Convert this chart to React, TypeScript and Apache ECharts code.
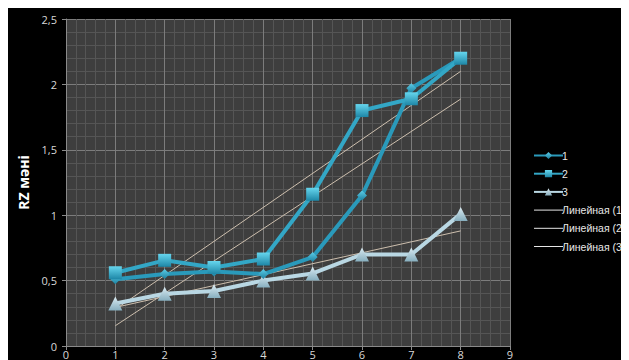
import React, { useEffect, useRef } from "react";
import * as echarts from "echarts";

const xValues = [1, 2, 3, 4, 5, 6, 7, 8];
const series1 = [0.51, 0.55, 0.57, 0.55, 0.68, 1.15, 1.97, 2.2];
const series2 = [0.56, 0.655, 0.6, 0.665, 1.16, 1.8, 1.89, 2.2];
const series3 = [0.325, 0.4, 0.42, 0.5, 0.555, 0.7, 0.7, 1.01];
const trendX = [1, 8];
const trend1 = [0.155, 1.888];
const trend2 = [0.28, 2.1];
const trend3 = [0.295, 0.88];
const seriesNames = ["1", "2", "3", "Линейная (1)", "Линейная (2)", "Линейная (3)"];
const yTicks = [0, 0.5, 1, 1.5, 2, 2.5];

const pairs = (xs: number[], ys: number[]) => xs.map((x, i) => [x, ys[i]]);

const grad = (top: string, bottom: string) =>
  new echarts.graphic.LinearGradient(0, 0, 0, 1, [
    { offset: 0, color: top },
    { offset: 1, color: bottom },
  ]);

const trendLegend = (name: string) => ({
  name,
  itemStyle: { color: "rgba(0,0,0,0)", opacity: 0, borderWidth: 0 },
  lineStyle: { color: "#e6e6e6", width: 1 },
});

export default function App() {
  const ref = useRef<HTMLDivElement>(null);
  useEffect(() => {
    document.documentElement.style.overflow = "hidden";
    document.body.style.overflow = "hidden";
    const chart = echarts.init(ref.current!, null, { renderer: "svg" });
    const labelColor = "#d8d8d8";
    chart.setOption({
      animation: false,
      backgroundColor: "#000000",
      textStyle: { fontFamily: "Open Sans" },
      grid: {
        left: 52,
        top: 11,
        width: 450,
        height: 328,
        show: true,
        backgroundColor: "#3e3e3e",
        borderWidth: 0,
      },
      legend: {
        orient: "vertical",
        left: 520,
        top: 137,
        width: 300,
        itemWidth: 29,
        itemHeight: 9,
        itemGap: 7.2,
        textStyle: {
          color: "#e8e8e8",
          fontSize: 10.5,
          fontFamily: "Liberation Sans",
          padding: [0, 0, 0, -6],
          overflow: "none",
          width: 200,
        },
        data: [
          { name: seriesNames[0] },
          { name: seriesNames[1] },
          { name: seriesNames[2] },
          trendLegend(seriesNames[3]),
          trendLegend(seriesNames[4]),
          trendLegend(seriesNames[5]),
        ],
      },
      xAxis: {
        type: "value",
        min: 0,
        max: 9,
        interval: 1,
        axisLine: { show: true, lineStyle: { color: "#8a8a8a" } },
        axisTick: { show: true, length: 4, lineStyle: { color: "#8a8a8a" } },
        axisLabel: { color: labelColor, fontSize: 11, margin: 3 },
        splitLine: { show: true, lineStyle: { color: "#7c7c7c", width: 1 } },
        minorTick: { show: false, splitNumber: 5 },
        minorSplitLine: { show: true, lineStyle: { color: "#555555", width: 1 } },
      },
      yAxis: {
        type: "value",
        min: 0,
        max: 2.5,
        interval: 0.5,
        name: "RZ мәні",
        nameLocation: "middle",
        nameGap: 36,
        nameTextStyle: { color: "#ffffff", fontSize: 14, fontWeight: "bold" },
        axisLine: { show: true, lineStyle: { color: "#8a8a8a" } },
        axisTick: { show: true, length: 4, lineStyle: { color: "#8a8a8a" } },
        axisLabel: {
          color: labelColor,
          fontSize: 11,
          margin: 9,
          formatter: (v: number) => (yTicks.includes(v) ? String(v).replace(".", ",") : ""),
        },
        splitLine: { show: true, lineStyle: { color: "#7c7c7c", width: 1 } },
        minorTick: { show: false, splitNumber: 5 },
        minorSplitLine: { show: true, lineStyle: { color: "#555555", width: 1 } },
      },
      series: [
        {
          name: seriesNames[0],
          type: "line",
          data: pairs(xValues, series1),
          symbol: "diamond",
          symbolSize: 10,
          z: 4,
          lineStyle: { color: "#2a9abb", width: 4 },
          itemStyle: { color: grad("#5ccde8", "#1c7f9e"), borderWidth: 0 },
        },
        {
          name: seriesNames[1],
          type: "line",
          data: pairs(xValues, series2),
          symbol: "rect",
          symbolSize: 13,
          z: 5,
          lineStyle: { color: "#33a7c6", width: 4 },
          itemStyle: { color: grad("#66d6ee", "#1d86a6"), borderWidth: 0 },
        },
        {
          name: seriesNames[2],
          type: "line",
          data: pairs(xValues, series3),
          symbol: "triangle",
          symbolSize: 14,
          z: 3,
          lineStyle: { color: "#b9d7e3", width: 4 },
          itemStyle: { color: grad("#dcecf3", "#86aebe"), borderWidth: 0 },
        },
        {
          name: seriesNames[3],
          type: "line",
          data: pairs(trendX, trend1),
          symbol: "none",
          z: 2,
          lineStyle: { color: "#cdbfae", width: 1 },
          itemStyle: { color: "#e0e0e0" },
        },
        {
          name: seriesNames[4],
          type: "line",
          data: pairs(trendX, trend2),
          symbol: "none",
          z: 2,
          lineStyle: { color: "#cdbfae", width: 1 },
          itemStyle: { color: "#e0e0e0" },
        },
        {
          name: seriesNames[5],
          type: "line",
          data: pairs(trendX, trend3),
          symbol: "none",
          z: 2,
          lineStyle: { color: "#cdbfae", width: 1 },
          itemStyle: { color: "#e0e0e0" },
        },
      ],
    });
    return () => chart.dispose();
  }, []);
  return <div ref={ref} style={{ width: 621, height: 352 }} />;
}
